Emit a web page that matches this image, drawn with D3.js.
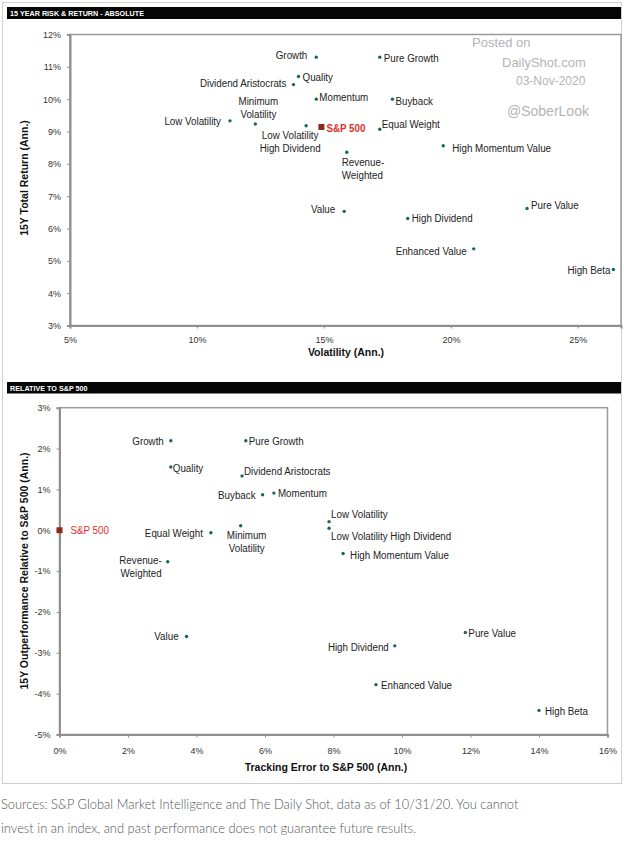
<!DOCTYPE html>
<html>
<head>
<meta charset="utf-8">
<script src="https://cdn.jsdelivr.net/npm/d3@7"></script>
<style>
  body { margin: 0; background: #fff; }
  svg text { font-family: 'Liberation Sans', Arial, sans-serif; }
  .tick text { fill: #333; font-size: 9px; }
  .domain, .tick line { stroke: #8e8e8e; }
  .footer { font-family: Lato, 'Open Sans', sans-serif; font-weight: 300; fill: #555; font-size: 12.9px; }
</style>
</head>
<body>
<svg id="chart" width="624" height="848"></svg>
<script>
// 15 year risk & return - absolute
var absNames = ["Growth", "Pure Growth", "Quality", "Dividend Aristocrats", "Momentum", "Buyback",
  "Low Volatility", "Minimum Volatility", "Low Volatility High Dividend", "S&P 500", "Equal Weight",
  "High Momentum Value", "Revenue-Weighted", "Value", "High Dividend", "Pure Value", "Enhanced Value", "High Beta"];
var absVol = [14.7, 17.2, 14.0, 13.8, 14.7, 17.7, 11.3, 12.3, 14.3, 14.9, 17.2, 19.7, 15.9, 15.8, 18.3, 23.0, 20.9, 26.4];
var absRet = [11.3, 11.3, 10.7, 10.45, 10.0, 10.0, 9.33, 9.23, 9.18, 9.14, 9.07, 8.56, 8.36, 6.53, 6.31, 6.62, 5.37, 4.73];
var absXTicks = [5, 10, 15, 20, 25];
var absYTicks = [3, 4, 5, 6, 7, 8, 9, 10, 11, 12];

// relative to S&P 500
var relNames = ["S&P 500", "Growth", "Quality", "Pure Growth", "Dividend Aristocrats", "Buyback", "Momentum",
  "Minimum Volatility", "Equal Weight", "Revenue-Weighted", "Low Volatility", "Low Volatility High Dividend",
  "High Momentum Value", "Value", "Pure Value", "High Dividend", "Enhanced Value", "High Beta"];
var relTE = [0, 3.25, 3.25, 5.44, 5.33, 5.93, 6.26, 5.29, 4.42, 3.16, 7.87, 7.87, 8.28, 3.71, 11.85, 9.79, 9.24, 14.0];
var relOut = [0, 2.19, 1.55, 2.19, 1.33, 0.87, 0.91, 0.11, -0.06, -0.77, 0.21, 0.05, -0.57, -2.6, -2.5, -2.83, -3.78, -4.41];
var relXTicks = [0, 2, 4, 6, 8, 10, 12, 14, 16];
var relYTicks = [-5, -4, -3, -2, -1, 0, 1, 2, 3];

// label placement next to each dot: anchor, dx, dy, optional line split
var absPlace = {
  "Growth": ["end", -9, -2], "Pure Growth": ["start", 4, 1], "Quality": ["start", 4, 1],
  "Dividend Aristocrats": ["end", -7, -1], "Momentum": ["start", 3, -2], "Buyback": ["start", 3, 2],
  "Low Volatility": ["end", -9, 0], "Minimum Volatility": ["middle", 3, -23, ["Minimum", "Volatility"]],
  "Low Volatility High Dividend": ["middle", -16, 9, ["Low Volatility", "High Dividend"]],
  "S&P 500": ["start", 5, 1], "Equal Weight": ["start", 2, -5], "High Momentum Value": ["start", 9, 2],
  "Revenue-Weighted": ["start", -5, 10, ["Revenue-", "Weighted"]], "Value": ["end", -9, -2],
  "High Dividend": ["start", 4, 0], "Pure Value": ["start", 4, -3], "Enhanced Value": ["end", -7, 2],
  "High Beta": ["end", -3, 1]
};
var relPlace = {
  "S&P 500": ["start", 11, 0], "Growth": ["end", -7, 0], "Quality": ["start", 2, 1], "Pure Growth": ["start", 3, 0],
  "Dividend Aristocrats": ["start", 2, -5], "Buyback": ["end", -7, 0], "Momentum": ["start", 4, 0],
  "Minimum Volatility": ["middle", 6, 9, ["Minimum", "Volatility"]], "Equal Weight": ["end", -8, 0],
  "Revenue-Weighted": ["end", -6, -2, ["Revenue-", "Weighted"]], "Low Volatility": ["start", 2, -8],
  "Low Volatility High Dividend": ["start", 2, 8], "High Momentum Value": ["start", 7, 2], "Value": ["end", -8, 0],
  "Pure Value": ["start", 3, 1], "High Dividend": ["end", -6, 1], "Enhanced Value": ["start", 5, 0],
  "High Beta": ["start", 6, 1]
};

var svg = d3.select("#chart");
var pct = function(d) { return d + "%"; };
var narrow = 0.89;   // no Arial Narrow here, so squeeze the labels a bit

// outer frame
svg.append("rect")
    .attr("x", 2.5).attr("y", 2.5).attr("width", 619).attr("height", 781)
    .attr("fill", "none").attr("stroke", "#cfcfcf");

function header(y, h, label) {
  svg.append("rect").attr("x", 7).attr("y", y).attr("width", 614).attr("height", h).attr("fill", "#050505");
  svg.append("text")
      .attr("transform", "translate(10," + (y + h / 2) + ") scale(0.9,1)")
      .attr("dy", "0.35em")
      .attr("fill", "#fff").attr("font-size", 8).attr("font-weight", "bold").text(label);
}

function scatter(opts) {
  var x = d3.scaleLinear().domain(opts.xDomain).range([opts.left, opts.right]);
  var y = d3.scaleLinear().domain(opts.yDomain).range([opts.bottom, opts.top]);
  var g = svg.append("g");

  g.append("rect")
      .attr("x", opts.left).attr("y", opts.top)
      .attr("width", opts.right - opts.left).attr("height", opts.bottom - opts.top)
      .attr("fill", "none").attr("stroke", "#9a9a9a").attr("stroke-width", 1.5);

  g.append("g")
      .attr("transform", "translate(0," + opts.bottom + ")")
      .call(d3.axisBottom(x).tickValues(opts.xTicks).tickFormat(pct).tickSize(3).tickPadding(opts.xPad))
      .call(function(a) { a.select(".domain").attr("stroke-width", 2); });

  g.append("g")
      .attr("transform", "translate(" + opts.left + ",0)")
      .call(d3.axisLeft(y).tickValues(opts.yTicks).tickFormat(pct).tickSize(3).tickPadding(6))
      .call(function(a) { a.select(".domain").attr("stroke-width", 2); });

  g.append("text")
      .attr("x", opts.xTitleX).attr("y", opts.xTitleY).attr("dy", "0.35em")
      .attr("text-anchor", "middle").attr("font-size", 10.5).attr("font-weight", "bold").attr("fill", "#111")
      .text(opts.xTitle);
  g.append("text")
      .attr("transform", "translate(24," + opts.yTitleY + ") rotate(-90)")
      .attr("dy", "0.35em")
      .attr("text-anchor", "middle").attr("font-size", 10.5).attr("font-weight", "bold").attr("fill", "#111")
      .text(opts.yTitle);

  var pts = opts.names.map(function(n, i) { return { name: n, x: opts.xs[i], y: opts.ys[i] }; });

  var dots = g.append("g");
  dots.selectAll("circle")
      .data(pts.filter(function(d) { return d.name !== "S&P 500"; }))
      .enter().append("circle")
      .attr("cx", function(d) { return x(d.x); })
      .attr("cy", function(d) { return y(d.y); })
      .attr("r", 1.7)
      .attr("fill", "#14695a");
  dots.selectAll("rect")
      .data(pts.filter(function(d) { return d.name === "S&P 500"; }))
      .enter().append("rect")
      .attr("x", function(d) { return x(d.x) - opts.sq / 2; })
      .attr("y", function(d) { return y(d.y) - opts.sq / 2; })
      .attr("width", opts.sq).attr("height", opts.sq)
      .attr("fill", "#8a2a1c");

  var labels = g.append("g").attr("font-size", 11).attr("fill", "#222");
  pts.forEach(function(d) {
    var p = opts.place[d.name];
    var lines = p[3] || [d.name];
    var t = labels.append("text")
        .attr("text-anchor", p[0])
        .attr("transform", "translate(" + (x(d.x) + p[1]) + "," + (y(d.y) + p[2]) + ") scale(" + narrow + ",1)");
    if (d.name === "S&P 500") {
      t.attr("fill", "#d8302a").attr("font-weight", opts.spBold ? "bold" : "normal");
    }
    lines.forEach(function(l, k) {
      t.append("tspan").attr("x", 0).attr("dy", k === 0 ? "0.35em" : 13).text(l);
    });
  });
}

header(7, 12, "15 YEAR RISK & RETURN - ABSOLUTE");
header(382, 11.5, "RELATIVE TO S&P 500");

scatter({
  names: absNames, xs: absVol, ys: absRet, place: absPlace,
  xDomain: [5, 26.7], yDomain: [3, 12], left: 70, right: 621, top: 34.5, bottom: 325.5,
  xTicks: absXTicks, yTicks: absYTicks, xPad: 8, sq: 6, spBold: true,
  xTitle: "Volatility (Ann.)", xTitleX: 346, xTitleY: 352,
  yTitle: "15Y Total Return (Ann.)", yTitleY: 178
});

scatter({
  names: relNames, xs: relTE, ys: relOut, place: relPlace,
  xDomain: [0, 16], yDomain: [-5, 3], left: 59.5, right: 607.5, top: 407.7, bottom: 734.5,
  xTicks: relXTicks, yTicks: relYTicks, xPad: 10, sq: 6, spBold: false,
  xTitle: "Tracking Error to S&P 500 (Ann.)", xTitleX: 326, xTitleY: 767,
  yTitle: "15Y Outperformance Relative to S&P 500 (Ann.)", yTitleY: 571
});

// watermark
var wm = svg.append("g").attr("fill", "#b4b4b4").attr("text-anchor", "start");
wm.append("text").attr("x", 472).attr("y", 42).attr("dy", "0.35em").attr("font-size", 13).text("Posted on");
wm.append("text").attr("x", 502).attr("y", 62).attr("dy", "0.35em").attr("font-size", 13).text("DailyShot.com");
wm.append("text").attr("x", 516).attr("y", 81).attr("dy", "0.35em").attr("font-size", 12).text("03-Nov-2020");
wm.append("text").attr("x", 507).attr("y", 111).attr("dy", "0.35em").attr("font-size", 14).text("@SoberLook");

// footer note
svg.append("text").attr("class", "footer").attr("x", 1).attr("y", 804).attr("dy", "0.35em")
    .text("Sources: S&P Global Market Intelligence and The Daily Shot, data as of 10/31/20. You cannot");
svg.append("text").attr("class", "footer").attr("x", 1).attr("y", 828).attr("dy", "0.35em")
    .text("invest in an index, and past performance does not guarantee future results.");
</script>
</body>
</html>
